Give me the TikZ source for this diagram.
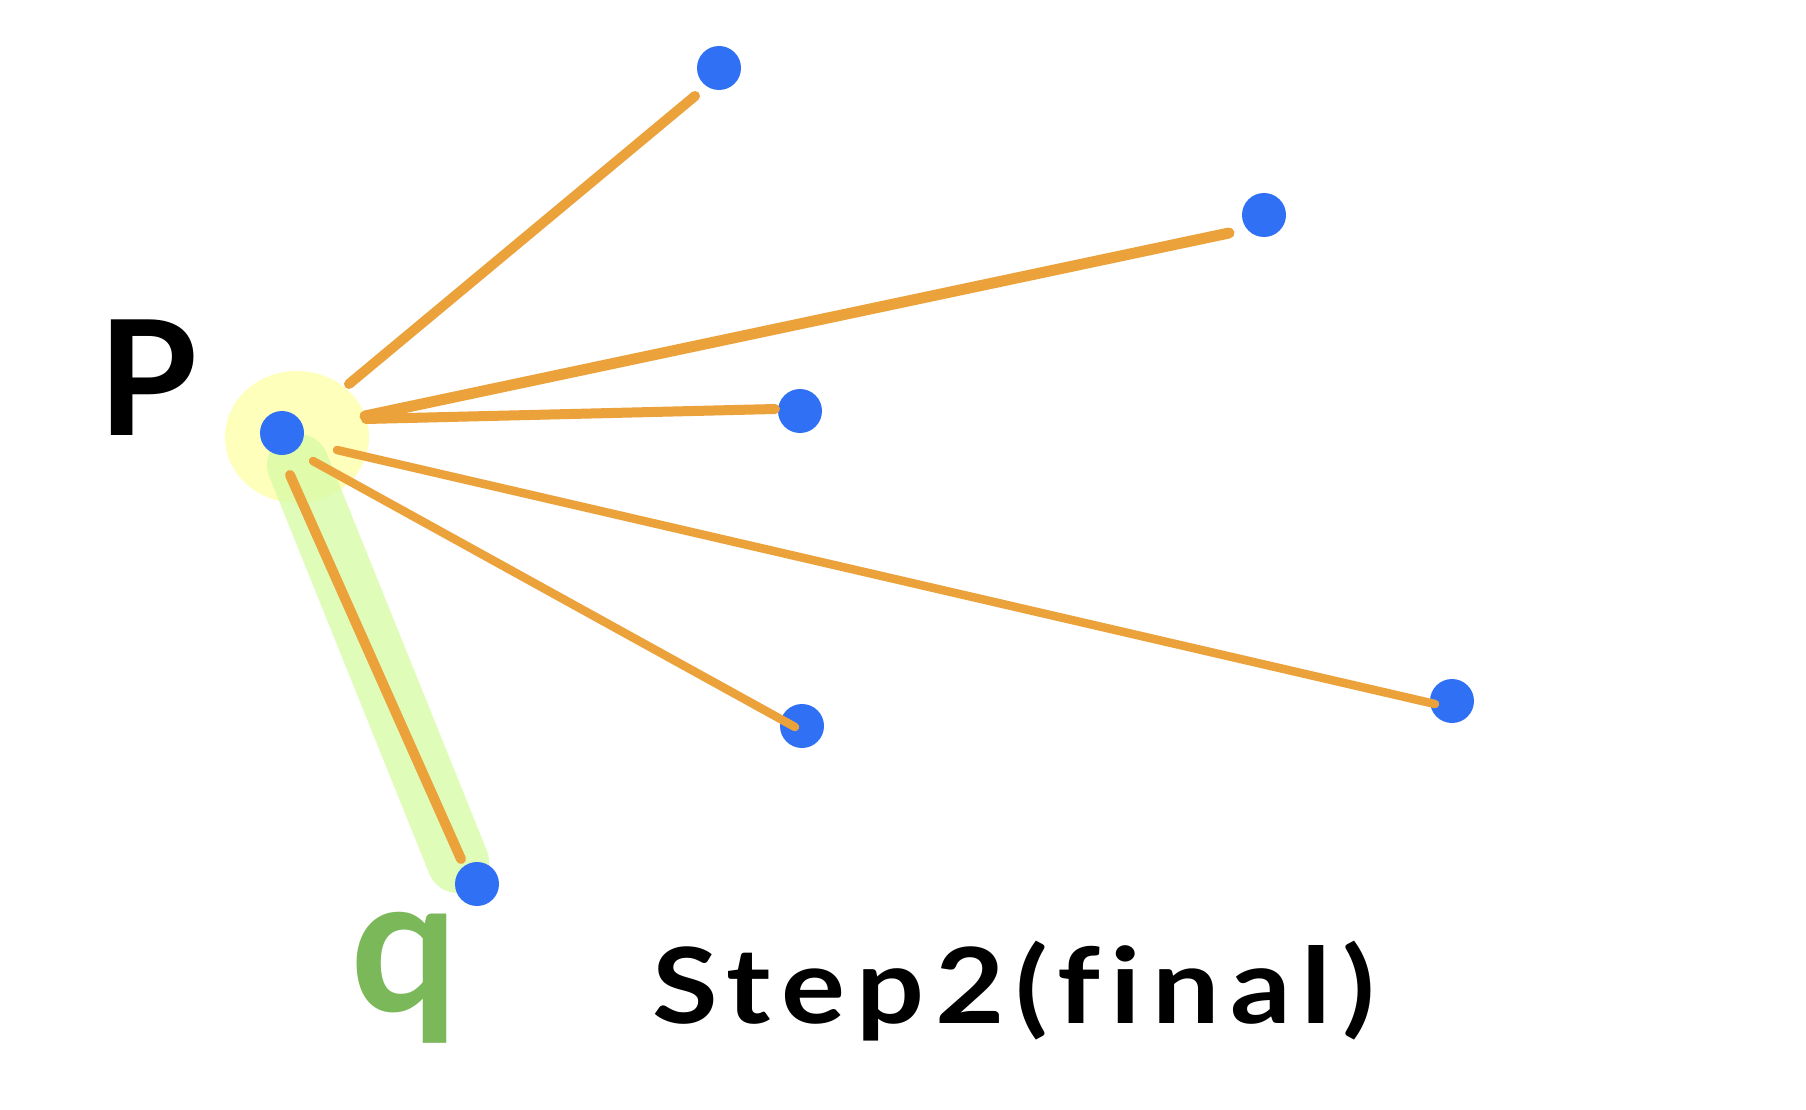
\documentclass[tikz,border=0pt]{standalone}
\usepackage{fontspec}
\setmainfont{Lato}
\definecolor{orng}{HTML}{EBA23B}
\definecolor{dotblue}{HTML}{2F70F5}
\definecolor{hiyellow}{HTML}{FEFFBB}
\definecolor{higreen}{HTML}{D9FCA8}
\definecolor{qgreen}{HTML}{7AB85A}
\begin{document}
\begin{tikzpicture}[x=1pt,y=-1pt,
  dotnode/.style={circle,fill=dotblue,inner sep=0pt,minimum size=44pt},
  ray/.style={draw=orng,line width=10pt,line cap=round},
  label/.style={inner sep=0pt,anchor=center}]
\useasboundingbox (0,0) rectangle (1806,1110);
\fill[white] (0,0) rectangle (1806,1110);
% highlights
\fill[hiyellow] (297,437) ellipse [x radius=72, y radius=66];
\draw[higreen,line width=62pt,line cap=round,opacity=0.8] (298,465) -- (458,862);
% dots
\node[dotnode] (p) at (282,433) {};
\node[dotnode] (d1) at (719,68) {};
\node[dotnode] (d2) at (1264,215) {};
\node[dotnode] (d3) at (800,411) {};
\node[dotnode] (d4) at (802,726) {};
\node[dotnode] (d5) at (1452,701) {};
\node[dotnode] (q) at (477,884) {};
% ray endpoints
\coordinate (s1) at (349,384); \coordinate (e1) at (695,96);
\coordinate (s2) at (365,416); \coordinate (e2) at (1229,233);
\coordinate (s3) at (366,419); \coordinate (e3) at (775,409);
\coordinate (s4) at (337,450); \coordinate (e4) at (1435,704);
\coordinate (s5) at (313,461); \coordinate (e5) at (795,727);
\coordinate (s6) at (290,475); \coordinate (e6) at (461,859);
\draw[ray] (s1) -- (e1);
\draw[ray,line width=11pt] (s2) -- (e2);
\draw[ray] (s3) -- (e3);
\draw[ray,line width=8.5pt] (s4) -- (e4);
\draw[ray,line width=8.5pt] (s5) -- (e5);
\draw[ray] (s6) -- (e6);
% labels
\node[label,font=\fontsize{160}{160}\selectfont\bfseries] (plabel) at (148,378) {P};
\node[label,text=qgreen,font=\fontsize{190}{190}\selectfont\bfseries] (qlabel) at (404,978) {q};
\node[label,font=\fontsize{105}{105}\selectfont\bfseries\addfontfeatures{LetterSpace=9,Ligatures=NoCommon},xscale=1.14] (title) at (1014,991) {Step2(final)};
\end{tikzpicture}
\end{document}
